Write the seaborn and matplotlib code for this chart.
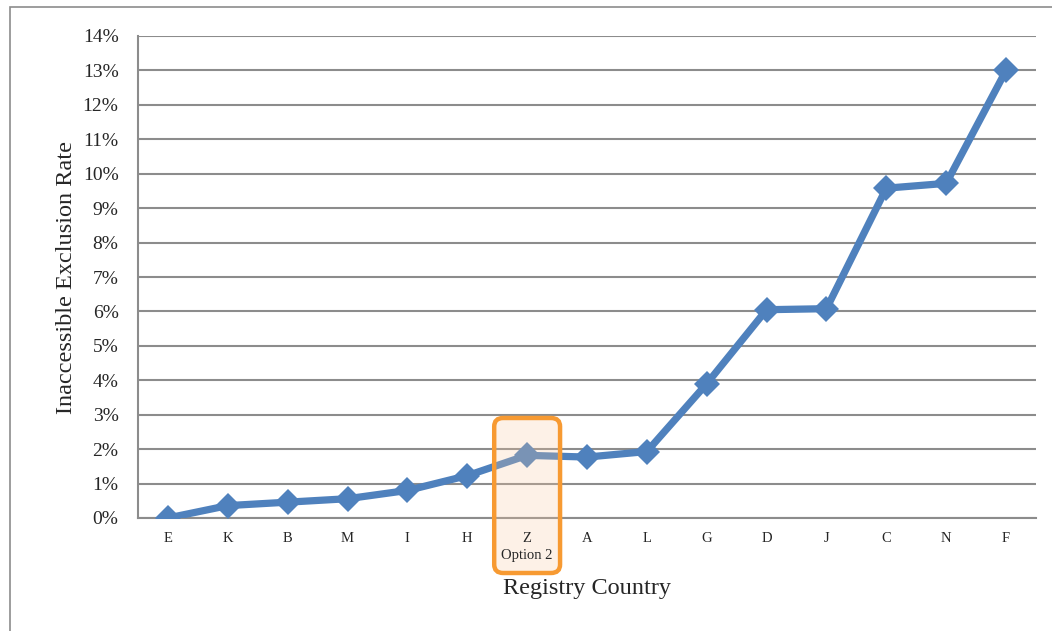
import matplotlib
matplotlib.use("Agg")
import matplotlib.pyplot as plt
import seaborn as sns
import pandas as pd
from matplotlib.patches import FancyBboxPatch, Rectangle
from matplotlib.ticker import FuncFormatter, MultipleLocator, FixedLocator
import matplotlib.transforms as mtransforms

# Registry countries ordered by exclusion rate
countries = ["E", "K", "B", "M", "I", "H", "Z", "A", "L", "G", "D", "J", "C", "N", "F"]
exclusion_rate = [0.0, 0.36, 0.46, 0.56, 0.80, 1.23, 1.82, 1.77, 1.93, 3.90, 6.05, 6.08, 9.58, 9.72, 13.0]
tick_labels = ["E", "K", "B", "M", "I", "H", "Z\nOption 2", "A", "L", "G", "D", "J", "C", "N", "F"]
highlight = "Z"

df = pd.DataFrame({"country": countries, "rate": exclusion_rate})
df["pos"] = range(len(df))

sns.set_style("white")
plt.rcParams["font.family"] = ["Liberation Serif", "DejaVu Serif"]

fig = plt.figure(figsize=(10.52, 6.31), dpi=100)
ax = fig.add_axes([138 / 1052, 1 - 518 / 631, (1036 - 138) / 1052, (518 - 36) / 631])

line_color = "#4F81BD"
sns.lineplot(data=df, x="pos", y="rate", ax=ax, color=line_color, linewidth=5.2,
             marker="D", markersize=13, markeredgewidth=0, zorder=3)

n = len(countries)
ax.set_xlim(-0.5, n - 0.5)
ax.set_ylim(0, 14)

# Horizontal gridlines
ax.yaxis.set_major_locator(MultipleLocator(1))
ax.yaxis.set_major_formatter(FuncFormatter(lambda v, _: f"{int(round(v))}%"))
ax.grid(axis="y", color="#8C8C8C", linewidth=1.5, zorder=0)
ax.grid(axis="x", visible=False)

# Category labels centred, tick marks between categories
ax.set_xticks(range(n))
ax.set_xticklabels(tick_labels, fontsize=10.5, linespacing=1.45)
ax.tick_params(axis="x", which="major", length=0, pad=10)
ax.xaxis.set_minor_locator(FixedLocator([i + 0.5 for i in range(-1, n)]))
ax.tick_params(axis="x", which="minor", length=5, width=1, color="#8C8C8C", direction="out")
ax.tick_params(axis="y", length=5, width=1, color="#8C8C8C", direction="out", labelsize=14, pad=9)
# keep category labels above the highlight box
ax.xaxis.set_zorder(6)

for side in ["top", "right"]:
    ax.spines[side].set_visible(False)
for side in ["left", "bottom"]:
    ax.spines[side].set_color("#8C8C8C")
    ax.spines[side].set_linewidth(1.5)

ax.set_xlabel("Registry Country", fontsize=17.5, labelpad=11)
ax.set_ylabel("Inaccessible Exclusion Rate", fontsize=17.5, labelpad=4)

# Highlight box around the selected country
hi = countries.index(highlight)
trans = mtransforms.blended_transform_factory(ax.transData, fig.transFigure)
box_bottom = 1 - 573 / 631
box_top = 1 - 418 / 631
box = FancyBboxPatch((hi - 0.55, box_bottom), 1.1, box_top - box_bottom,
                     boxstyle="round,pad=0,rounding_size=0.15",
                     transform=trans, facecolor=(0.976, 0.79, 0.63, 0.25),
                     edgecolor="#F79A32", linewidth=3.2, clip_on=False, zorder=5,
                     mutation_aspect=0.09)
ax.add_patch(box)

# Outer chart frame
frame = Rectangle((10 / 1052, -0.05), 1.2, 1 - 7 / 631 + 0.05, transform=fig.transFigure,
                  fill=False, edgecolor="#8C8C8C", linewidth=1.2)
fig.patches.append(frame)

fig.savefig("out.png", dpi=100)
